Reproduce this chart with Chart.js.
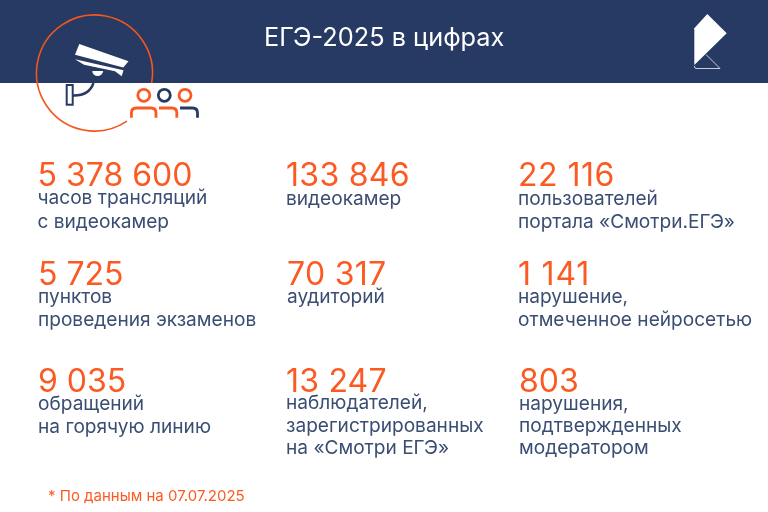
<!DOCTYPE html>
<html lang="ru">
<head>
<meta charset="utf-8">
<title>ЕГЭ-2025 в цифрах</title>
<script src="https://cdn.jsdelivr.net/npm/chart.js@4/dist/chart.umd.js"></script>
<style>
  html, body { margin: 0; padding: 0; background: #fff; }
  #chart { display: block; }
</style>
</head>
<body>
<canvas id="chart" width="768" height="512"></canvas>
<script>
const title = 'ЕГЭ-2025 в цифрах';
const footnote = '* По данным на 07.07.2025';

const figures = [5378600, 133846, 22116, 5725, 70317, 1141, 9035, 13247, 803];
const captions = [
    ['часов трансляций', 'с видеокамер'],
    ['видеокамер'],
    ['пользователей', 'портала «Смотри.ЕГЭ»'],
    ['пунктов', 'проведения экзаменов'],
    ['аудиторий'],
    ['нарушение,', 'отмеченное нейросетью'],
    ['обращений', 'на горячую линию'],
    ['наблюдателей,', 'зарегистрированных', 'на «Смотри ЕГЭ»'],
    ['нарушения,', 'подтвержденных', 'модератором']
];

// where each block sits on the picture, x and number baseline
const blockX = [37.5, 286, 518, 38, 287, 518, 38, 286, 519];
const blockY = [186, 186, 186, 285, 285, 285, 392, 392, 392];
const captionGap = [18, 19, 19, 18, 18, 18, 18, 17, 18];
const captionLine = [23.5, 23, 23, 23, 23, 23, 23, 22.5, 22];
const figureSpacing = [0, 0.3, 0.5, 0, 0.3, 0.8, 0, 0.2, 0];

const navy = '#263a63';
const orange = '#fb5a23';
const textBlue = '#3a4d72';

function fmt(n) {
    return String(n).replace(/\B(?=(\d{3})+$)/g, ' ');
}

const artwork = {
    id: 'artwork',
    beforeDatasetsDraw(chart) {
        const c = chart.ctx;
        const X = v => chart.scales.x.getPixelForValue(v);
        const Y = v => chart.scales.y.getPixelForValue(v);
        c.save();
        c.fillStyle = '#fff';
        c.fillRect(0, 0, 768, 512);

        // header band
        c.fillStyle = navy;
        c.fillRect(0, 0, 768, 83);

        // ring
        c.strokeStyle = '#f4561f';
        c.lineWidth = 1.6;
        c.beginPath();
        c.arc(94.5, 73, 58, 56 * Math.PI / 180, (360 + 10) * Math.PI / 180);
        c.stroke();

        // camera
        c.fillStyle = '#fff';
        poly(c, [[79.3, 44], [128.5, 61.3], [123.3, 67.5], [75, 54.7]]);
        poly(c, [[75, 59.2], [123.5, 70.3], [121.7, 76.3], [115, 71.3], [84, 64.7]]);
        c.beginPath();
        c.arc(97.7, 70.5, 5.5, 0.1, Math.PI - 0.1);
        c.fill();

        // camera mount
        c.strokeStyle = navy;
        c.lineWidth = 2;
        c.strokeRect(66.7, 85, 6, 19.7);
        c.lineWidth = 2.4;
        c.beginPath();
        c.moveTo(73, 95.5);
        c.quadraticCurveTo(89, 96, 93.5, 83);
        c.stroke();

        // people
        c.lineWidth = 2.8;
        [[143.8, orange], [164.3, navy], [185, orange]].forEach(([x, col]) => {
            c.strokeStyle = col;
            c.beginPath();
            c.arc(x, 95.3, 6, 0, Math.PI * 2);
            c.stroke();
        });
        c.strokeStyle = orange;
        c.beginPath();
        c.moveTo(131.4, 117.7);
        c.lineTo(131.4, 113);
        c.quadraticCurveTo(131.4, 108, 136.4, 108);
        c.lineTo(151, 108);
        c.quadraticCurveTo(156, 108, 156, 113);
        c.lineTo(156, 117.7);
        c.moveTo(159, 108);
        c.lineTo(172, 108);
        c.quadraticCurveTo(176.8, 108, 176.8, 113);
        c.lineTo(176.8, 117.7);
        c.stroke();
        c.strokeStyle = navy;
        c.beginPath();
        c.moveTo(180, 108);
        c.lineTo(192.5, 108);
        c.quadraticCurveTo(197.5, 108, 197.5, 113);
        c.lineTo(197.5, 117.7);
        c.stroke();

        // logo
        c.fillStyle = '#fff';
        poly(c, [[707.3, 14], [726.7, 33.3], [694.3, 65], [694.3, 28.3]]);
        c.strokeStyle = '#c9ced9';
        c.lineWidth = 1;
        c.beginPath();
        c.moveTo(706, 54.5);
        c.lineTo(720, 68.5);
        c.lineTo(696, 68.5);
        c.quadraticCurveTo(694.5, 68.5, 694.5, 66);
        c.stroke();

        // header title
        c.textBaseline = 'alphabetic';
        c.fillStyle = '#fff';
        c.font = '400 25.3px Inter';
        c.fillText(title, 264, 46);

        // figures and captions
        figures.forEach((v, i) => {
            const x = X(blockX[i]);
            const y = Y(blockY[i]);
            c.fillStyle = orange;
            c.font = '400 32px Inter';
            c.letterSpacing = figureSpacing[i] + 'px';
            c.fillText(fmt(v), x, y);
            c.letterSpacing = '0px';
            c.fillStyle = textBlue;
            c.font = '400 19.1px Inter';
            captions[i].forEach((line, k) => {
                c.fillText(line, x, y + captionGap[i] + k * captionLine[i]);
            });
        });

        c.fillStyle = orange;
        c.font = '400 15px Inter';
        c.fillText(footnote, 48, 501);
        c.restore();
    }
};

function poly(c, pts) {
    c.beginPath();
    pts.forEach(([x, y], i) => i ? c.lineTo(x, y) : c.moveTo(x, y));
    c.closePath();
    c.fill();
}

const chart = new Chart(document.getElementById('chart'), {
    type: 'scatter',
    data: {
        datasets: [{
            label: title,
            data: figures.map((v, i) => ({ x: blockX[i], y: blockY[i], value: v })),
            pointRadius: 0
        }]
    },
    options: {
        responsive: false,
        animation: false,
        devicePixelRatio: 1,
        layout: { padding: 0 },
        plugins: { legend: { display: false }, tooltip: { enabled: false } },
        scales: {
            x: { type: 'linear', min: 0, max: 768, display: false },
            y: { type: 'linear', min: 0, max: 512, reverse: true, display: false }
        }
    },
    plugins: [artwork]
});
</script>
</body>
</html>
